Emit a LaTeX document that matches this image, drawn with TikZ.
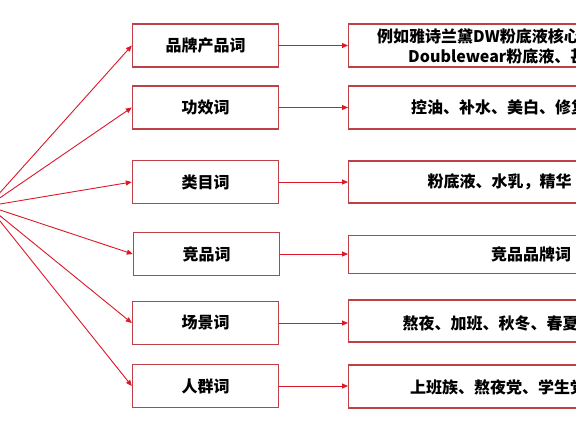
\documentclass[tikz,border=0pt]{standalone}
\usepackage{fontspec}
\setmainfont{Noto Sans CJK SC}
\usetikzlibrary{arrows.meta}
\definecolor{boxred}{RGB}{192,64,72}
\definecolor{arrred}{RGB}{222,24,40}
\tikzset{
  lbox/.style={draw=boxred, line width=1.4pt, minimum width=146pt, minimum height=43pt, inner sep=0pt,
    font=\fontsize{16}{18}\selectfont\bfseries},
  rbox/.style={draw=boxred, line width=1.4pt, minimum width=320pt, minimum height=43pt, inner sep=0pt, anchor=west},
  rtext/.style={anchor=west, inner sep=0pt, font=\fontsize{16}{18}\selectfont\bfseries},
  conn/.style={draw=arrred, line width=0.9pt, -{Triangle[length=6pt,width=5pt]}},
}
\begin{document}
\begin{tikzpicture}[x=1pt,y=-1pt]
\useasboundingbox (0,0) rectangle (576,432);
\fill[white] (0,0) rectangle (576,432);
\clip (0,0) rectangle (576,432);
\coordinate (src) at (-12,206);
% left boxes
\node[lbox] (l1) at (205.5,45.5) {品牌产品词};
\node[lbox] (l2) at (205.5,107.5) {功效词};
\node[lbox] (l3) at (205.5,182) {类目词};
\node[lbox] (l4) at (206.5,254) {竞品词};
\node[lbox] (l5) at (205.5,323) {场景词};
\node[lbox] (l6) at (205.5,386) {人群词};
% right boxes
\node[rbox, minimum height=43pt] (r1) at (348,45.5) {};
\node[rbox, minimum height=43pt] (r2) at (348,107.5) {};
\node[rbox, minimum height=42pt] (r3) at (348,182) {};
\node[rbox, minimum height=38pt] (r4) at (348,254.5) {};
\node[rbox, minimum height=42pt] (r5) at (348,321) {};
\node[rbox, minimum height=43pt] (r6) at (348,386.5) {};
% right texts
\node[rtext] (t1a) at (377,36.5) {例如雅诗兰黛DW粉底液核心};
\node[rtext] (t1b) at (408,56.5) {Doublewear粉底液、甚};
\node[rtext] (t2) at (411,107.5) {控油、补水、美白、修复};
\node[rtext] (t3) at (427.5,182) {粉底液、水乳，精华};
\node[rtext] (t4) at (491,254) {竞品品牌词};
\node[rtext] (t5) at (402.5,323) {熬夜、加班、秋冬、春夏};
\node[rtext] (t6) at (410,387) {上班族、熬夜党、学生党};
% connectors
\foreach \i in {1,...,6}{
  \draw[conn] (src) -- (l\i.west);
  \draw[conn] (l\i.east) -- (l\i.east -| r\i.west);
}
\end{tikzpicture}
\end{document}
